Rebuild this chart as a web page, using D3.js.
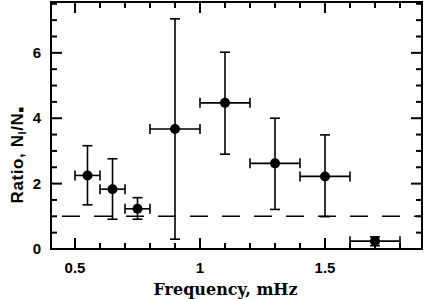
<!DOCTYPE html>
<html><head><meta charset="utf-8">
<script src="https://cdn.jsdelivr.net/npm/d3@7"></script>
<style>body{margin:0;background:#fff}</style>
</head><body><svg id="c" width="426" height="299"></svg>
<script>
const freq   = [0.55, 0.65, 0.75, 0.90, 1.10, 1.30, 1.50, 1.70];
const freqLo = [0.50, 0.60, 0.70, 0.80, 1.00, 1.20, 1.40, 1.60];
const freqHi = [0.60, 0.70, 0.80, 1.00, 1.20, 1.40, 1.60, 1.80];
const ratio  = [2.25, 1.83, 1.23, 3.67, 4.47, 2.62, 2.22, 0.24];
const ratioLo= [1.35, 0.91, 0.91, 0.30, 2.90, 1.21, 0.99, 0.10];
const ratioHi= [3.16, 2.76, 1.57, 7.04, 6.02, 4.00, 3.49, 0.37];
const refLine = 1;
const xTicks = [0.5, 1, 1.5];
const xTickLabels = ["0.5", "1", "1.5"];
const yTicks = [0, 2, 4, 6];

const svg = d3.select("#c");
const L = 51, R = 422, T = 2, B = 249;
const x = d3.scaleLinear().domain([0.404, 1.888]).range([L, R]);
const y = d3.scaleLinear().domain([0, 7.555]).range([B, T]);

const g = svg.append("g");
g.append("rect").attr("x", L).attr("y", T).attr("width", R - L).attr("height", B - T)
  .attr("fill", "none").attr("stroke", "#000").attr("stroke-width", 2);

const xMinor = d3.range(0.5, 1.85, 0.1).map(v => +v.toFixed(2));
const yMinor = d3.range(0, 7.6, 0.5);
xMinor.forEach(v => {
  const major = xTicks.some(t => Math.abs(t - v) < 1e-6);
  const len = major ? 11 : 6;
  g.append("line").attr("x1", x(v)).attr("x2", x(v)).attr("y1", B).attr("y2", B - len)
    .attr("stroke", "#000").attr("stroke-width", 2);
  g.append("line").attr("x1", x(v)).attr("x2", x(v)).attr("y1", T).attr("y2", T + len)
    .attr("stroke", "#000").attr("stroke-width", 2);
});
yMinor.forEach(v => {
  const major = yTicks.some(t => Math.abs(t - v) < 1e-6);
  const len = major ? 11 : 6;
  g.append("line").attr("x1", L).attr("x2", L + len).attr("y1", y(v)).attr("y2", y(v))
    .attr("stroke", "#000").attr("stroke-width", 2);
  g.append("line").attr("x1", R).attr("x2", R - len).attr("y1", y(v)).attr("y2", y(v))
    .attr("stroke", "#000").attr("stroke-width", 2);
});

const tickFont = "'Liberation Sans', Arial, sans-serif";
xTicks.forEach((v, i) => {
  g.append("text").attr("x", x(v)).attr("y", 273).attr("text-anchor", "middle")
    .attr("font-family", tickFont).attr("font-weight", "bold").attr("font-size", 15)
    .text(xTickLabels[i]);
});
yTicks.forEach(v => {
  g.append("text").attr("x", 41).attr("y", y(v) + 5).attr("text-anchor", "end")
    .attr("font-family", tickFont).attr("font-weight", "bold").attr("font-size", 15)
    .text(String(v));
});

g.append("text").attr("x", 225.5).attr("y", 295).attr("text-anchor", "middle")
  .attr("font-family", "'DejaVu Serif', serif").attr("font-weight", "bold").attr("font-size", 16)
  .text("Frequency, mHz");

const yl = g.append("text").attr("transform", "translate(23,155) rotate(-90)")
  .attr("text-anchor", "middle").attr("font-family", tickFont).attr("font-weight", "bold")
  .attr("font-size", 17).attr("letter-spacing", 0.6);
yl.append("tspan").text("Ratio,  N");
yl.append("tspan").attr("font-size", 11).attr("dy", 3).text("l");
yl.append("tspan").attr("dy", -3).text("/N");
yl.append("tspan").attr("font-size", 9).attr("dy", 1).text("■");

g.append("line").attr("x1", L).attr("x2", R).attr("y1", y(refLine)).attr("y2", y(refLine))
  .attr("stroke", "#000").attr("stroke-width", 1.6)
  .attr("stroke-dasharray", "18,14").attr("stroke-dashoffset", 21);

const cap = 5;
freq.forEach((f, i) => {
  const cx = x(f), cy = y(ratio[i]);
  const line = (x1, y1, x2, y2) => g.append("line").attr("x1", x1).attr("y1", y1)
    .attr("x2", x2).attr("y2", y2).attr("stroke", "#000").attr("stroke-width", 1.6);
  line(x(freqLo[i]), cy, x(freqHi[i]), cy);
  line(x(freqLo[i]), cy - cap, x(freqLo[i]), cy + cap);
  line(x(freqHi[i]), cy - cap, x(freqHi[i]), cy + cap);
  line(cx, y(ratioLo[i]), cx, y(ratioHi[i]));
  line(cx - cap, y(ratioLo[i]), cx + cap, y(ratioLo[i]));
  line(cx - cap, y(ratioHi[i]), cx + cap, y(ratioHi[i]));
  g.append("circle").attr("cx", cx).attr("cy", cy).attr("r", 5).attr("fill", "#000");
});
</script></body></html>
